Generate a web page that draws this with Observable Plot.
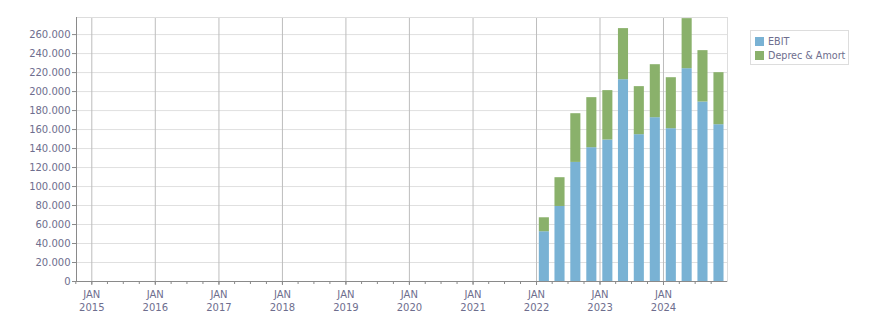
<!DOCTYPE html>
<html>
<head>
<meta charset="utf-8">
<script src="https://cdn.jsdelivr.net/npm/d3@7"></script>
<script src="https://cdn.jsdelivr.net/npm/@observablehq/plot@0.6"></script>
<style>
  html, body { margin: 0; padding: 0; background: #fff; }
  #wrap { position: relative; width: 876px; height: 313px; font-family: "DejaVu Sans", sans-serif; }
  #legend { position: absolute; left: 750px; top: 30px; border: 1px solid #ddd; padding: 3px 3px 2px 4px; font-size: 9.6px; color: #6e6e8e; background: #fff; }
  #legend div { display: flex; align-items: center; height: 14px; white-space: nowrap; }
  #legend span.sw { display: inline-block; width: 9px; height: 9px; margin-right: 4px; }
</style>
</head>
<body>
<div id="wrap">
  <div id="chart"></div>
  <div id="legend"></div>
</div>
<script>
const quarters = ["2022-Q1","2022-Q2","2022-Q3","2022-Q4","2023-Q1","2023-Q2","2023-Q3","2023-Q4","2024-Q1","2024-Q2","2024-Q3","2024-Q4"];
const ebit   = [52400, 79000, 125400, 140900, 149000, 212500, 154600, 172500, 160900, 224100, 189000, 165100];
const deprec = [14700, 30300,  51300,  52700,  52000,  53800,  50600,  55800,  53700,  52700,  54100,  54800];
const seriesNames = ["EBIT", "Deprec & Amort"];
const seriesColors = ["#79b2d4", "#8ab16b"];
const years = [2015, 2016, 2017, 2018, 2019, 2020, 2021, 2022, 2023, 2024];
const yTicks = [0, 20000, 40000, 60000, 80000, 100000, 120000, 140000, 160000, 180000, 200000, 220000, 240000, 260000];

const textColor = "#6e6e8e";
const qStart = q => new Date(Date.UTC(+q.slice(0, 4), (+q.slice(6) - 1) * 3, 1));
const rows = [];
quarters.forEach((q, i) => {
  const c = d3.utcDay.offset(qStart(q), 45);
  rows.push({q, x1: d3.utcDay.offset(c, -29), x2: d3.utcDay.offset(c, 29), series: seriesNames[0], value: ebit[i]});
  rows.push({q, x1: d3.utcDay.offset(c, -29), x2: d3.utcDay.offset(c, 29), series: seriesNames[1], value: deprec[i]});
});

const janDates = years.map(y => new Date(Date.UTC(y, 0, 1)));
const quarterTicks = [];
for (let y = 2014; y <= 2024; y++) for (let m = 0; m < 12; m += 3) {
  const d = new Date(Date.UTC(y, m, 1));
  if (d >= new Date(Date.UTC(2014, 9, 1)) && d <= new Date(Date.UTC(2025, 0, 1))) quarterTicks.push(d);
}
const xDomain = [new Date(Date.UTC(2014, 9, 5)), new Date(Date.UTC(2025, 0, 3))];
const yMax = 278000;

const loc = d3.formatLocale({decimal: ",", thousands: ".", grouping: [3], currency: ["", ""]});
const fmt = loc.format(",");

const chart = Plot.plot({
  width: 876,
  height: 313,
  marginLeft: 76,
  marginRight: 149,
  marginTop: 17,
  marginBottom: 32,
  style: {fontFamily: "DejaVu Sans, sans-serif", fontSize: "10px", background: "#fff"},
  x: {type: "utc", domain: xDomain},
  y: {domain: [0, yMax]},
  color: {domain: seriesNames, range: seriesColors},
  marks: [
    Plot.ruleY(yTicks, {stroke: "#e0e0e0"}),
    Plot.ruleX(janDates, {stroke: "#bdbdbd"}),
    Plot.frame({stroke: "#dddddd"}),
    Plot.rectY(rows, Plot.stackY({x1: "x1", x2: "x2", y: "value", fill: "series", order: seriesNames})),
    Plot.ruleY([0], {stroke: "#8a8a8a"}),
    Plot.ruleX([xDomain[0]], {stroke: "#8a8a8a"}),
    Plot.axisY({ticks: yTicks, tickFormat: fmt, tickSize: 4, tickPadding: 2, stroke: "#8a8a8a", color: textColor, label: null}),
    Plot.axisX({ticks: quarterTicks, tickSize: 3, tickFormat: () => "", stroke: "#8a8a8a", label: null}),
    Plot.axisX({ticks: janDates, tickSize: 4, tickPadding: 3, tickFormat: d => `JAN\n${d.getUTCFullYear()}`, lineHeight: 1.3, stroke: "#8a8a8a", color: textColor, label: null})
  ]
});
document.getElementById("chart").appendChild(chart);

const legend = document.getElementById("legend");
seriesNames.forEach((s, i) => {
  const row = document.createElement("div");
  const sw = document.createElement("span");
  sw.className = "sw";
  sw.style.background = seriesColors[i];
  row.appendChild(sw);
  row.appendChild(document.createTextNode(s));
  legend.appendChild(row);
});
</script>
</body>
</html>
